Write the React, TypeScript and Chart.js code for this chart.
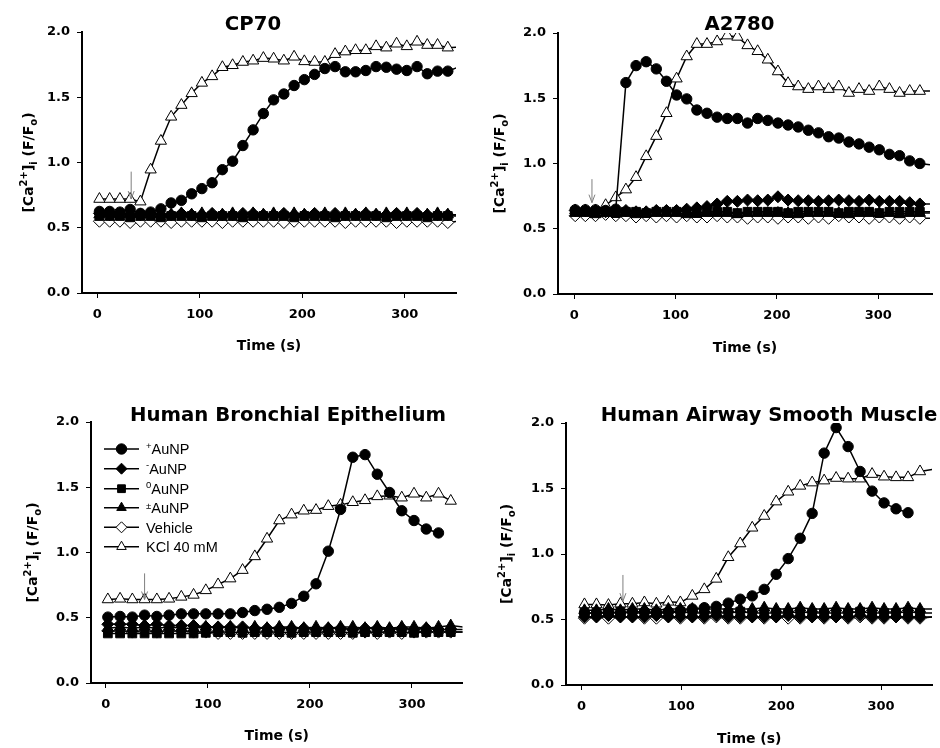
import React, { useEffect, useRef } from 'react';
import { Chart, registerables } from 'chart.js';

Chart.register(...registerables);

const BOLD = '"DejaVu Sans", "Liberation Sans", sans-serif';
const REG = '"Liberation Sans", Arial, sans-serif';

// ---------- tick labels ----------
const xTickValues = [0, 100, 200, 300];
const yTickStep = 0.5;

// ---------- titles ----------
const panelTitles = ['CP70', 'A2780', 'Human Bronchial Epithelium', 'Human Airway Smooth Muscle'];
const xAxisTitle = 'Time (s)';

// ---------- legend ----------
const seriesNames = ['AuNP', 'AuNP', 'AuNP', 'AuNP', 'Vehicle', 'KCl 40 mM'];
const seriesSups = ['+', '-', '0', '±', '', ''];

// ---------- CP70 ----------
const cp70Time = [2, 12, 22, 32, 42, 52, 62, 72, 82, 92, 102, 112, 122, 132, 142, 152, 162, 172, 182, 192, 202, 212, 222, 232, 242, 252, 262, 272, 282, 292, 302, 312, 322, 332, 342, 352];
const cp70Plus = [0.625, 0.625, 0.62, 0.64, 0.61, 0.62, 0.645, 0.69, 0.71, 0.76, 0.8, 0.845, 0.945, 1.01, 1.13, 1.25, 1.375, 1.48, 1.525, 1.59, 1.635, 1.675, 1.72, 1.735, 1.695, 1.695, 1.705, 1.735, 1.73, 1.715, 1.705, 1.735, 1.68, 1.7, 1.7, 1.73];
const cp70Minus = [0.61, 0.6, 0.61, 0.6, 0.6, 0.61, 0.6, 0.6, 0.61, 0.6, 0.6, 0.61, 0.6, 0.6, 0.61, 0.61, 0.6, 0.6, 0.61, 0.6, 0.6, 0.61, 0.6, 0.61, 0.6, 0.6, 0.61, 0.6, 0.6, 0.61, 0.6, 0.61, 0.6, 0.6, 0.6, 0.6];
const cp70Zero = [0.59, 0.59, 0.59, 0.58, 0.59, 0.59, 0.58, 0.59, 0.59, 0.59, 0.58, 0.59, 0.59, 0.59, 0.58, 0.59, 0.59, 0.59, 0.59, 0.58, 0.59, 0.59, 0.59, 0.58, 0.59, 0.59, 0.59, 0.59, 0.58, 0.59, 0.59, 0.59, 0.58, 0.59, 0.59, 0.59];
const cp70PlusMinus = [0.6, 0.61, 0.6, 0.61, 0.6, 0.6, 0.61, 0.6, 0.61, 0.6, 0.61, 0.6, 0.6, 0.61, 0.6, 0.61, 0.6, 0.61, 0.6, 0.61, 0.6, 0.6, 0.61, 0.6, 0.61, 0.6, 0.61, 0.6, 0.61, 0.6, 0.61, 0.6, 0.6, 0.61, 0.6, 0.6];
const cp70Vehicle = [0.55, 0.55, 0.55, 0.54, 0.55, 0.55, 0.55, 0.54, 0.55, 0.55, 0.55, 0.55, 0.54, 0.55, 0.55, 0.55, 0.55, 0.55, 0.54, 0.55, 0.55, 0.55, 0.55, 0.55, 0.54, 0.55, 0.55, 0.55, 0.55, 0.54, 0.55, 0.55, 0.55, 0.55, 0.54, 0.55];
const cp70KCl = [0.72, 0.72, 0.72, 0.72, 0.7, 0.945, 1.165, 1.35, 1.44, 1.53, 1.61, 1.66, 1.73, 1.745, 1.77, 1.78, 1.8, 1.795, 1.78, 1.81, 1.775, 1.77, 1.77, 1.83, 1.85, 1.86, 1.86, 1.89, 1.88, 1.91, 1.89, 1.925, 1.9, 1.9, 1.88, 1.885];
const cp70Arrow = [33, 0.93, 0.72];

// ---------- A2780 ----------
const a2780Time = [1, 11, 21, 31, 41, 51, 61, 71, 81, 91, 101, 111, 121, 131, 141, 151, 161, 171, 181, 191, 201, 211, 221, 231, 241, 251, 261, 271, 281, 291, 301, 311, 321, 331, 341, 351];
const a2780Plus = [0.645, 0.645, 0.645, 0.64, 0.65, 1.62, 1.75, 1.78, 1.725, 1.63, 1.525, 1.495, 1.41, 1.385, 1.355, 1.345, 1.345, 1.31, 1.345, 1.33, 1.31, 1.295, 1.28, 1.255, 1.235, 1.205, 1.195, 1.165, 1.15, 1.125, 1.105, 1.07, 1.06, 1.02, 1.0, 0.99];
const a2780Minus = [0.64, 0.64, 0.64, 0.63, 0.64, 0.64, 0.63, 0.63, 0.64, 0.64, 0.64, 0.65, 0.66, 0.67, 0.69, 0.71, 0.71, 0.72, 0.715, 0.72, 0.745, 0.72, 0.715, 0.715, 0.71, 0.715, 0.72, 0.715, 0.71, 0.72, 0.71, 0.71, 0.71, 0.7, 0.69, 0.69];
const a2780Zero = [0.63, 0.63, 0.63, 0.63, 0.62, 0.63, 0.63, 0.62, 0.63, 0.63, 0.63, 0.63, 0.62, 0.63, 0.63, 0.63, 0.62, 0.63, 0.63, 0.63, 0.63, 0.62, 0.63, 0.63, 0.63, 0.63, 0.62, 0.63, 0.63, 0.63, 0.62, 0.63, 0.63, 0.63, 0.63, 0.63];
const a2780PlusMinus = [0.62, 0.62, 0.61, 0.62, 0.62, 0.62, 0.61, 0.62, 0.62, 0.62, 0.62, 0.61, 0.62, 0.62, 0.62, 0.62, 0.61, 0.62, 0.62, 0.62, 0.62, 0.62, 0.61, 0.62, 0.62, 0.62, 0.62, 0.61, 0.62, 0.62, 0.62, 0.62, 0.61, 0.62, 0.62, 0.62];
const a2780Vehicle = [0.6, 0.6, 0.6, 0.61, 0.6, 0.6, 0.59, 0.6, 0.59, 0.6, 0.59, 0.6, 0.59, 0.59, 0.6, 0.59, 0.59, 0.58, 0.59, 0.59, 0.58, 0.59, 0.59, 0.58, 0.59, 0.58, 0.6, 0.59, 0.59, 0.58, 0.59, 0.59, 0.58, 0.59, 0.58, 0.58];
const a2780KCl = [0.64, 0.64, 0.64, 0.68, 0.74, 0.8, 0.895, 1.055, 1.21, 1.385, 1.65, 1.82, 1.915, 1.915, 1.935, 1.98, 1.97, 1.905, 1.86, 1.795, 1.705, 1.615, 1.59, 1.57, 1.59, 1.57, 1.59, 1.54, 1.57, 1.555, 1.59, 1.57, 1.54, 1.555, 1.555, 1.555];
const a2780Arrow = [17.5, 0.88, 0.7];

// ---------- Human Bronchial Epithelium ----------
const hbeTime = [2, 14, 26, 38, 50, 62, 74, 86, 98, 110, 122, 134, 146, 158, 170, 182, 194, 206, 218, 230, 242, 254, 266, 278, 290, 302, 314, 326, 338, 350];
const hbePlus = [0.505, 0.51, 0.505, 0.52, 0.51, 0.52, 0.53, 0.53, 0.53, 0.53, 0.53, 0.54, 0.555, 0.565, 0.58, 0.61, 0.665, 0.76, 1.01, 1.33, 1.73, 1.75, 1.6, 1.46, 1.32, 1.245, 1.18, 1.15];
const hbeMinus = [0.45, 0.45, 0.45, 0.44, 0.45, 0.44, 0.44, 0.44, 0.43, 0.43, 0.43, 0.43, 0.42, 0.42, 0.42, 0.42, 0.42, 0.41, 0.42, 0.42, 0.41, 0.42, 0.42, 0.41, 0.42, 0.41, 0.42, 0.41, 0.41, 0.41];
const hbeZero = [0.38, 0.38, 0.38, 0.38, 0.38, 0.38, 0.38, 0.38, 0.385, 0.39, 0.39, 0.385, 0.39, 0.39, 0.39, 0.385, 0.39, 0.39, 0.39, 0.39, 0.385, 0.39, 0.39, 0.39, 0.39, 0.385, 0.39, 0.39, 0.39, 0.39];
const hbePlusMinus = [0.42, 0.43, 0.42, 0.43, 0.42, 0.43, 0.42, 0.42, 0.43, 0.42, 0.43, 0.42, 0.43, 0.42, 0.43, 0.43, 0.42, 0.43, 0.42, 0.43, 0.43, 0.42, 0.43, 0.42, 0.43, 0.43, 0.42, 0.43, 0.44, 0.43];
const hbeVehicle = [0.4, 0.4, 0.39, 0.4, 0.39, 0.4, 0.4, 0.39, 0.39, 0.38, 0.38, 0.38, 0.38, 0.38, 0.38, 0.38, 0.38, 0.38, 0.38, 0.38, 0.38, 0.39, 0.38, 0.39, 0.38, 0.39, 0.39, 0.39, 0.39, 0.39];
const hbeKCl = [0.64, 0.645, 0.64, 0.64, 0.64, 0.645, 0.66, 0.675, 0.71, 0.755, 0.8, 0.865, 0.97, 1.105, 1.245, 1.29, 1.32, 1.325, 1.355, 1.365, 1.385, 1.4, 1.43, 1.435, 1.42, 1.45, 1.42, 1.45, 1.395];
const hbeArrow = [38, 0.84, 0.64];

// ---------- Human Airway Smooth Muscle ----------
const hasmTime = [3, 15, 27, 39, 51, 63, 75, 87, 99, 111, 123, 135, 147, 159, 171, 183, 195, 207, 219, 231, 243, 255, 267, 279, 291, 303, 315, 327, 339, 351];
const hasmPlus = [0.55, 0.55, 0.555, 0.55, 0.56, 0.56, 0.555, 0.56, 0.565, 0.58, 0.59, 0.6, 0.625, 0.655, 0.68, 0.73, 0.845, 0.965, 1.12, 1.31, 1.77, 1.965, 1.82, 1.63, 1.48, 1.39, 1.345, 1.315];
const hasmMinus = [0.52, 0.52, 0.53, 0.52, 0.52, 0.52, 0.53, 0.52, 0.52, 0.52, 0.52, 0.53, 0.52, 0.52, 0.52, 0.52, 0.52, 0.53, 0.52, 0.52, 0.52, 0.52, 0.52, 0.53, 0.52, 0.52, 0.52, 0.52, 0.52, 0.52];
const hasmZero = [0.55, 0.55, 0.55, 0.56, 0.55, 0.55, 0.55, 0.55, 0.56, 0.55, 0.55, 0.55, 0.55, 0.56, 0.55, 0.55, 0.55, 0.55, 0.56, 0.55, 0.55, 0.55, 0.55, 0.56, 0.55, 0.55, 0.55, 0.56, 0.55, 0.55];
const hasmPlusMinus = [0.57, 0.57, 0.58, 0.57, 0.58, 0.58, 0.57, 0.58, 0.58, 0.58, 0.58, 0.58, 0.58, 0.58, 0.58, 0.59, 0.58, 0.58, 0.59, 0.58, 0.58, 0.59, 0.58, 0.58, 0.59, 0.58, 0.58, 0.59, 0.58, 0.58];
const hasmVehicle = [0.51, 0.52, 0.51, 0.52, 0.52, 0.51, 0.51, 0.52, 0.51, 0.52, 0.51, 0.52, 0.51, 0.51, 0.52, 0.51, 0.52, 0.51, 0.51, 0.52, 0.51, 0.52, 0.51, 0.52, 0.51, 0.51, 0.52, 0.51, 0.51, 0.52];
const hasmKCl = [0.615, 0.615, 0.61, 0.62, 0.62, 0.63, 0.62, 0.635, 0.63, 0.68, 0.73, 0.81, 0.975, 1.08, 1.2, 1.29, 1.4, 1.475, 1.52, 1.545, 1.56, 1.58, 1.575, 1.575, 1.61, 1.59, 1.585, 1.585, 1.63, 1.645];
const hasmArrow = [41.5, 0.84, 0.64];

// ---------- styles ----------
const MARKERS = [
  { style: 'circle', r: 5.2, fill: '#000000' },
  { style: 'rectRot', r: 6, fill: '#000000' },
  { style: 'rect', r: 6.2, fill: '#000000' },
  { style: 'triangle', r: 6.5, fill: '#000000' },
  { style: 'rectRot', r: 6, fill: '#ffffff' },
  { style: 'triangle', r: 6.5, fill: '#ffffff' },
];

const PW = 470;
const PH = 374;

type PanelCfg = {
  key: string;
  title: string;
  pos: [number, number];
  area: { l: number; r: number; t: number; b: number };
  xMin: number;
  xMax: number;
  time: number[];
  series: number[][];
  markerEnd: number;
  arrow: number[];
  titleX: number;
  titleY: number;
  xTitleY: number;
  yTitleX: number;
  legend: boolean;
};

const PANELS: PanelCfg[] = [
  {
    key: 'cp70', title: panelTitles[0], pos: [0, 0],
    area: { l: 82, r: 456, t: 32, b: 293 }, xMin: -15, xMax: 350,
    time: cp70Time, series: [cp70Plus, cp70Minus, cp70Zero, cp70PlusMinus, cp70Vehicle, cp70KCl],
    markerEnd: 342, arrow: cp70Arrow, titleX: 253, titleY: 30, xTitleY: 346.5, yTitleX: 33, legend: false,
  },
  {
    key: 'a2780', title: panelTitles[1], pos: [470, 0],
    area: { l: 88, r: 462, t: 33, b: 294 }, xMin: -16, xMax: 353,
    time: a2780Time, series: [a2780Plus, a2780Minus, a2780Zero, a2780PlusMinus, a2780Vehicle, a2780KCl],
    markerEnd: 341, arrow: a2780Arrow, titleX: 269.5, titleY: 30, xTitleY: 348.5, yTitleX: 34, legend: false,
  },
  {
    key: 'hbe', title: panelTitles[2], pos: [0, 374],
    area: { l: 91, r: 463, t: 48, b: 309 }, xMin: -14.5, xMax: 349.5,
    time: hbeTime, series: [hbePlus, hbeMinus, hbeZero, hbePlusMinus, hbeVehicle, hbeKCl],
    markerEnd: 338, arrow: hbeArrow, titleX: 288, titleY: 46.5, xTitleY: 362.5, yTitleX: 37, legend: true,
  },
  {
    key: 'hasm', title: panelTitles[3], pos: [470, 374],
    area: { l: 96, r: 470, t: 49, b: 311 }, xMin: -15.5, xMax: 351.5,
    time: hasmTime, series: [hasmPlus, hasmMinus, hasmZero, hasmPlusMinus, hasmVehicle, hasmKCl],
    markerEnd: 339, arrow: hasmArrow, titleX: 299, titleY: 47, xTitleY: 365, yTitleX: 41, legend: false,
  },
];

function drawMarker(ctx: CanvasRenderingContext2D, style: string, x: number, y: number, r: number, fill: string) {
  ctx.beginPath();
  if (style === 'circle') {
    ctx.arc(x, y, r, 0, Math.PI * 2);
  } else if (style === 'rectRot') {
    ctx.moveTo(x, y - r);
    ctx.lineTo(x + r, y);
    ctx.lineTo(x, y + r);
    ctx.lineTo(x - r, y);
    ctx.closePath();
  } else if (style === 'rect') {
    const s = r * Math.SQRT1_2;
    ctx.rect(x - s, y - s, 2 * s, 2 * s);
  } else {
    for (let k = 0; k < 3; k++) {
      const a = (k * 2 * Math.PI) / 3;
      const px = x + Math.sin(a) * r;
      const py = y - Math.cos(a) * r;
      if (k === 0) ctx.moveTo(px, py);
      else ctx.lineTo(px, py);
    }
    ctx.closePath();
  }
  ctx.fillStyle = fill;
  ctx.fill();
  ctx.lineWidth = 1;
  ctx.strokeStyle = '#000';
  ctx.stroke();
}

function drawYTitle(ctx: CanvasRenderingContext2D, x: number, yc: number) {
  const main = `bold 14px ${BOLD}`;
  const small = `bold 10px ${BOLD}`;
  const segs: [string, number][] = [['[Ca', 0], ['2+', -1], [']', 0], ['i', 1], [' (F/F', 0], ['o', 1], [')', 0]];
  ctx.save();
  ctx.translate(x, yc);
  ctx.rotate(-Math.PI / 2);
  ctx.fillStyle = '#000';
  ctx.textBaseline = 'alphabetic';
  ctx.textAlign = 'left';
  let total = 0;
  const widths = segs.map(([t, k]) => {
    ctx.font = k === 0 ? main : small;
    const w = ctx.measureText(t).width;
    total += w;
    return w;
  });
  let cx = -total / 2;
  segs.forEach(([t, k], i) => {
    ctx.font = k === 0 ? main : small;
    ctx.fillText(t, cx, k === -1 ? -6.5 : k === 1 ? 3.5 : 0);
    cx += widths[i];
  });
  ctx.restore();
}

function drawLegend(ctx: CanvasRenderingContext2D) {
  const rows = [75, 94.7, 114.7, 133.7, 153.3, 172.7];
  ctx.save();
  rows.forEach((y, i) => {
    ctx.beginPath();
    ctx.moveTo(104, y);
    ctx.lineTo(139, y);
    ctx.strokeStyle = '#000';
    ctx.lineWidth = 1.5;
    ctx.stroke();
    const m = MARKERS[i];
    drawMarker(ctx, m.style, 121.5, y, Math.min(m.r, 5.5), m.fill);
    let tx = 146;
    ctx.fillStyle = '#000';
    ctx.textAlign = 'left';
    ctx.textBaseline = 'alphabetic';
    if (seriesSups[i]) {
      ctx.font = `9.5px ${REG}`;
      const s = seriesSups[i];
      ctx.fillText(s, tx, y + (s === '±' ? 1 : -0.5));
      tx += ctx.measureText(s).width;
    }
    ctx.font = `14.5px ${REG}`;
    ctx.fillText(seriesNames[i], tx, y + 5.3);
  });
  ctx.restore();
}

function makeOverlay(p: PanelCfg) {
  return {
    id: 'overlay_' + p.key,
    afterDatasetsDraw(chart: any) {
      const ctx: CanvasRenderingContext2D = chart.ctx;
      const xs = chart.scales.x;
      const ys = chart.scales.y;
      const ax = xs.getPixelForValue(p.arrow[0]);
      const y1 = ys.getPixelForValue(p.arrow[1]);
      const y2 = ys.getPixelForValue(p.arrow[2]);
      ctx.save();
      ctx.strokeStyle = '#7f7f7f';
      ctx.lineWidth = 1;
      ctx.beginPath();
      ctx.moveTo(ax, y1);
      ctx.lineTo(ax, y2);
      ctx.moveTo(ax - 3, y2 - 8);
      ctx.lineTo(ax, y2);
      ctx.lineTo(ax + 3, y2 - 8);
      ctx.stroke();
      ctx.restore();
    },
    afterDraw(chart: any) {
      const ctx: CanvasRenderingContext2D = chart.ctx;
      const ca = chart.chartArea;
      ctx.save();
      ctx.fillStyle = '#000';
      ctx.textAlign = 'center';
      ctx.textBaseline = 'alphabetic';
      ctx.font = `bold 19.7px ${BOLD}`;
      ctx.fillText(p.title, p.titleX, p.titleY);
      ctx.font = `bold 14px ${BOLD}`;
      ctx.textBaseline = 'middle';
      ctx.fillText(xAxisTitle, (ca.left + ca.right) / 2, p.xTitleY);
      ctx.restore();
      drawYTitle(ctx, p.yTitleX, (ca.top + ca.bottom) / 2);
      if (p.legend) drawLegend(ctx);
    },
  };
}

function Panel({ p }: { p: PanelCfg }) {
  const ref = useRef<HTMLCanvasElement | null>(null);
  useEffect(() => {
    if (!ref.current) return;
    const tickFont = { family: BOLD, size: 13, weight: 'bold' as const };
    const chart = new Chart(ref.current, {
      type: 'line',
      data: {
        datasets: p.series.map((vals, i) => {
          const m = MARKERS[i];
          return {
            label: seriesNames[i],
            data: vals.map((v, k) => ({ x: p.time[k], y: v })),
            borderColor: '#000',
            borderWidth: 1.5,
            tension: 0,
            pointStyle: m.style as any,
            pointRadius: (c: any) => (c.raw && c.raw.x > p.markerEnd ? 0 : m.r),
            pointHoverRadius: 0,
            pointBackgroundColor: m.fill,
            pointBorderColor: '#000',
            pointBorderWidth: 1,
          };
        }),
      },
      options: {
        responsive: false,
        animation: false,
        events: [],
        layout: {
          padding: { left: 0, top: p.area.t, right: PW - p.area.r, bottom: PH - p.area.b - 40 },
        },
        plugins: { legend: { display: false }, tooltip: { enabled: false }, title: { display: false } },
        scales: {
          x: {
            type: 'linear',
            min: p.xMin,
            max: p.xMax,
            afterFit: (s: any) => { s.height = 40; },
            afterBuildTicks: (s: any) => { s.ticks = xTickValues.map((v) => ({ value: v })); },
            grid: { drawOnChartArea: false, drawTicks: true, tickLength: 5, tickWidth: 1, tickColor: '#000' },
            border: { display: true, color: '#000', width: 2 },
            ticks: { font: tickFont, color: '#000', padding: 9, maxRotation: 0, autoSkip: false, callback: (v: any) => String(v) },
          },
          y: {
            type: 'linear',
            min: 0,
            max: 2,
            afterFit: (s: any) => { s.width = p.area.l; },
            grid: { drawOnChartArea: false, drawTicks: true, tickLength: 5, tickWidth: 1, tickColor: '#000' },
            border: { display: true, color: '#000', width: 2 },
            ticks: { stepSize: yTickStep, font: tickFont, color: '#000', padding: 7, callback: (v: any) => Number(v).toFixed(1) },
          },
        },
      },
      plugins: [makeOverlay(p)],
    } as any);
    return () => chart.destroy();
  }, [p]);
  return (
    <canvas
      ref={ref}
      width={PW}
      height={PH}
      style={{ position: 'absolute', left: p.pos[0], top: p.pos[1], width: PW, height: PH }}
    />
  );
}

export default function App() {
  return (
    <div style={{ position: 'fixed', left: 0, top: 0, width: 940, height: 748, background: '#fff', overflow: 'hidden' }}>
      {PANELS.map((p) => (
        <Panel key={p.key} p={p} />
      ))}
    </div>
  );
}
